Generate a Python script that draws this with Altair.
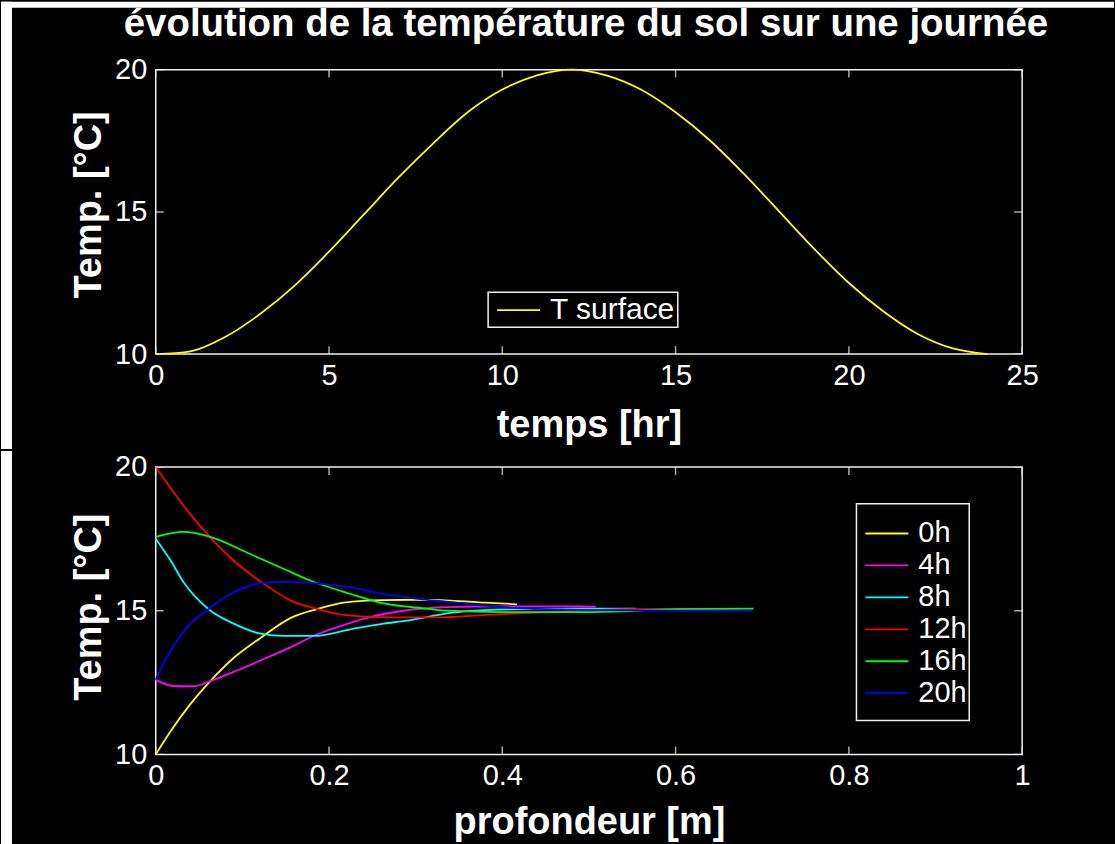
import altair as alt
import pandas as pd

# ---------------- data ----------------
titre = "évolution de la température du sol sur une journée"
heures = list(range(25))
t_surface = [10.0, 10.1, 10.6, 11.4, 12.4, 13.6, 14.9, 16.2, 17.4, 18.5, 19.3, 19.8, 20.0,
             19.8, 19.3, 18.5, 17.5, 16.3, 15.0, 13.7, 12.5, 11.5, 10.7, 10.2, 10.0]

labels = ["0h", "4h", "8h", "12h", "16h", "20h"]
couleurs = ["#ffff00", "#ff00ff", "#00ffff", "#ff0000", "#00ff00", "#0000ff"]

prof_0h = [0, 0.017, 0.040, 0.063, 0.086, 0.121, 0.156, 0.186, 0.217, 0.263, 0.30, 0.34, 0.38, 0.417]
temp_0h = [10.0, 10.8, 11.75, 12.55, 13.25, 14.05, 14.75, 15.05, 15.28, 15.37, 15.38, 15.35, 15.28, 15.22]

prof_4h = [0, 0.02, 0.044, 0.063, 0.094, 0.125, 0.156, 0.186, 0.209, 0.244, 0.282, 0.336, 0.40, 0.45, 0.508]
temp_4h = [12.6, 12.38, 12.37, 12.55, 12.92, 13.32, 13.73, 14.17, 14.42, 14.75, 14.98, 15.12, 15.15, 15.15, 15.14]

prof_8h = [0, 0.017, 0.033, 0.061, 0.090, 0.121, 0.148, 0.182, 0.225, 0.263, 0.29, 0.317, 0.34, 0.38, 0.45, 0.554]
temp_8h = [17.5, 16.75, 15.95, 15.05, 14.55, 14.2, 14.12, 14.12, 14.35, 14.55, 14.65, 14.8, 14.92, 15.02, 15.06, 15.07]

prof_12h = [0, 0.040, 0.063, 0.086, 0.125, 0.156, 0.186, 0.217, 0.263, 0.33, 0.38, 0.45, 0.55, 0.674]
temp_12h = [20.0, 18.35, 17.55, 16.85, 15.93, 15.35, 15.06, 14.85, 14.77, 14.77, 14.85, 14.95, 15.05, 15.07]

prof_16h = [0, 0.032, 0.063, 0.109, 0.148, 0.179, 0.225, 0.263, 0.313, 0.336, 0.40, 0.505, 0.60, 0.69]
temp_16h = [17.57, 17.74, 17.57, 16.97, 16.45, 16.04, 15.58, 15.25, 15.07, 15.0, 14.95, 14.95, 15.05, 15.07]

prof_20h = [0, 0.017, 0.036, 0.061, 0.090, 0.125, 0.150, 0.179, 0.225, 0.263, 0.30, 0.34, 0.40, 0.50, 0.60, 0.689]
temp_20h = [12.6, 13.6, 14.42, 15.06, 15.64, 15.97, 16.0, 15.97, 15.81, 15.58, 15.42, 15.3, 15.12, 15.02, 15.0, 15.0]

ticks_temps = [0, 5, 10, 15, 20, 25]
ticks_prof = [0, 0.2, 0.4, 0.6, 0.8, 1]
ticks_temp = [10, 15, 20]

profs = [prof_0h, prof_4h, prof_8h, prof_12h, prof_16h, prof_20h]
temps = [temp_0h, temp_4h, temp_8h, temp_12h, temp_16h, temp_20h]

# ---------------- tables ----------------
top_df = pd.DataFrame({"temps": heures, "T": t_surface, "serie": "T surface"})
rows = []
for k, (lab, ds, ts) in enumerate(zip(labels, profs, temps)):
    for d, t in zip(ds, ts):
        rows.append({"profondeur": d, "T": t, "heure": lab, "ordre": k})
bot_df = pd.DataFrame(rows)
one = pd.DataFrame({"a": [0]})

FONT = "Liberation Sans"
W, H1, H2 = 868, 285, 288
LBL = 29
TTL = 38
X0, Y0 = 155, 70          # plot origin of the top panel in the page
Y0B = 466                 # plot origin (y) of the bottom panel
SH = 2                    # layout correction
FRAME = "#f0f0f0"


def x_axis(values, title, ty, fmt=None):
    kw = dict(values=values, title=title, labelFont=FONT, labelFontSize=LBL, labelColor="white",
              labelPadding=7, labelFlush=False, labelOverlap=False, ticks=False, tickSize=0,
              domain=False, grid=False, titleFont=FONT, titleFontSize=TTL, titleFontWeight="bold",
              titleColor="white", titleBaseline="alphabetic", titleY=ty, titleX=W / 2)
    if fmt:
        kw["format"] = fmt
    return alt.Axis(**kw)


def y_axis(values, ty):
    return alt.Axis(values=values, title="Temp. [°C]", labelFont=FONT, labelFontSize=LBL,
                    labelColor="white", labelPadding=9, labelFlush=False, labelOverlap=False,
                    ticks=False, tickSize=0, domain=False, grid=False, titleFont=FONT,
                    titleFontSize=TTL, titleFontWeight="bold", titleColor="white",
                    titleAngle=270, titleBaseline="alphabetic", titleAlign="center",
                    titleX=-55, titleY=ty)


def tick_layers(xvals, yvals, xscale, yscale, xax, yax, h):
    dx = pd.DataFrame({"v": xvals})
    dy = pd.DataFrame({"v": yvals})
    tk = dict(color=FRAME, thickness=1.5, size=16, clip=True)
    out = []
    for yy in (0, h):
        out.append(alt.Chart(dx).mark_tick(**tk).encode(
            x=alt.X("v:Q", scale=xscale, axis=xax), y=alt.value(yy)))
    for xx in (0, W):
        out.append(alt.Chart(dy).mark_tick(**tk).encode(
            y=alt.Y("v:Q", scale=yscale, axis=yax), x=alt.value(xx)))
    return out


def strip(x1, x2, y1, y2):
    return alt.Chart(one).mark_rect(color="white").encode(
        x=alt.value(x1), x2=alt.value(x2), y=alt.value(y1), y2=alt.value(y2))


def box(x1, x2, y1, y2):
    return alt.Chart(one).mark_rect(fill="black", stroke=FRAME, strokeWidth=1.5).encode(
        x=alt.value(x1), x2=alt.value(x2), y=alt.value(y1), y2=alt.value(y2))


xs1 = alt.Scale(domain=[0, 25], nice=False, zero=False)
ys1 = alt.Scale(domain=[10, 20], nice=False, zero=False)
xs2 = alt.Scale(domain=[0, 1], nice=False, zero=False)
ys2 = alt.Scale(domain=[10, 20], nice=False, zero=False)

xa1 = x_axis(ticks_temps, "temps [hr]", 83)
ya1 = y_axis(ticks_temp, 135)
xa2 = x_axis(ticks_prof, "profondeur [m]", 79, "~g")
ya2 = y_axis(ticks_temp, 140)

leg_common = dict(title=None, orient="none", padding=0, labelFont=FONT, labelColor="white",
                  symbolType="stroke", symbolSize=1849, symbolStrokeWidth=1.8, labelOffset=9,
                  rowPadding=0)

line_top = alt.Chart(top_df).mark_line(strokeWidth=1.8, interpolate="monotone").encode(
    x=alt.X("temps:Q", scale=xs1, axis=xa1),
    y=alt.Y("T:Q", scale=ys1, axis=ya1),
    color=alt.Color("serie:N", scale=alt.Scale(domain=["T surface"], range=["#ffff00"]),
                    legend=alt.Legend(legendX=341, legendY=226, labelFontSize=30,
                                      clipHeight=30, **leg_common)),
)

title_mark = alt.Chart(one).mark_text(
    text=titre, font=FONT, fontSize=38.5, fontWeight="bold", color="white",
    align="center", baseline="alphabetic").encode(x=alt.value(586 - X0), y=alt.value(36 - Y0))

top = alt.layer(
    strip(-X0, 1115 - X0, -Y0 + SH, -Y0 + SH + 6),
    strip(-X0, -X0 + 11, -Y0 + SH, H1 + 95),
    title_mark,
    box(333, 523, 223, 258),
    line_top,
    *tick_layers(ticks_temps, ticks_temp, xs1, ys1, xa1, ya1, H1),
).properties(width=W, height=H1)

line_bot = alt.Chart(bot_df).mark_line(strokeWidth=1.8, interpolate="monotone").encode(
    x=alt.X("profondeur:Q", scale=xs2, axis=xa2),
    y=alt.Y("T:Q", scale=ys2, axis=ya2),
    color=alt.Color("heure:N", sort=labels, scale=alt.Scale(domain=labels, range=couleurs),
                    legend=alt.Legend(legendX=710, legendY=51, labelFontSize=LBL,
                                      clipHeight=31.4, **leg_common)),
    order="ordre:Q",
)

bottom = alt.layer(
    strip(-X0, -X0 + 11, -16, 844 - Y0B),
    box(702, 815, 37, 254),
    line_bot,
    *tick_layers(ticks_prof, ticks_temp, xs2, ys2, xa2, ya2, H2),
).properties(width=W, height=H2)

chart = alt.vconcat(top, bottom, spacing=0).resolve_scale(color="independent").resolve_legend(
    color="independent").properties(
    padding={"left": 0, "top": 0, "right": 0, "bottom": 0},
    background="black",
).configure_view(stroke=FRAME, strokeWidth=1.5)

chart.save("out.html", embed_options={"renderer": "svg", "actions": False})
